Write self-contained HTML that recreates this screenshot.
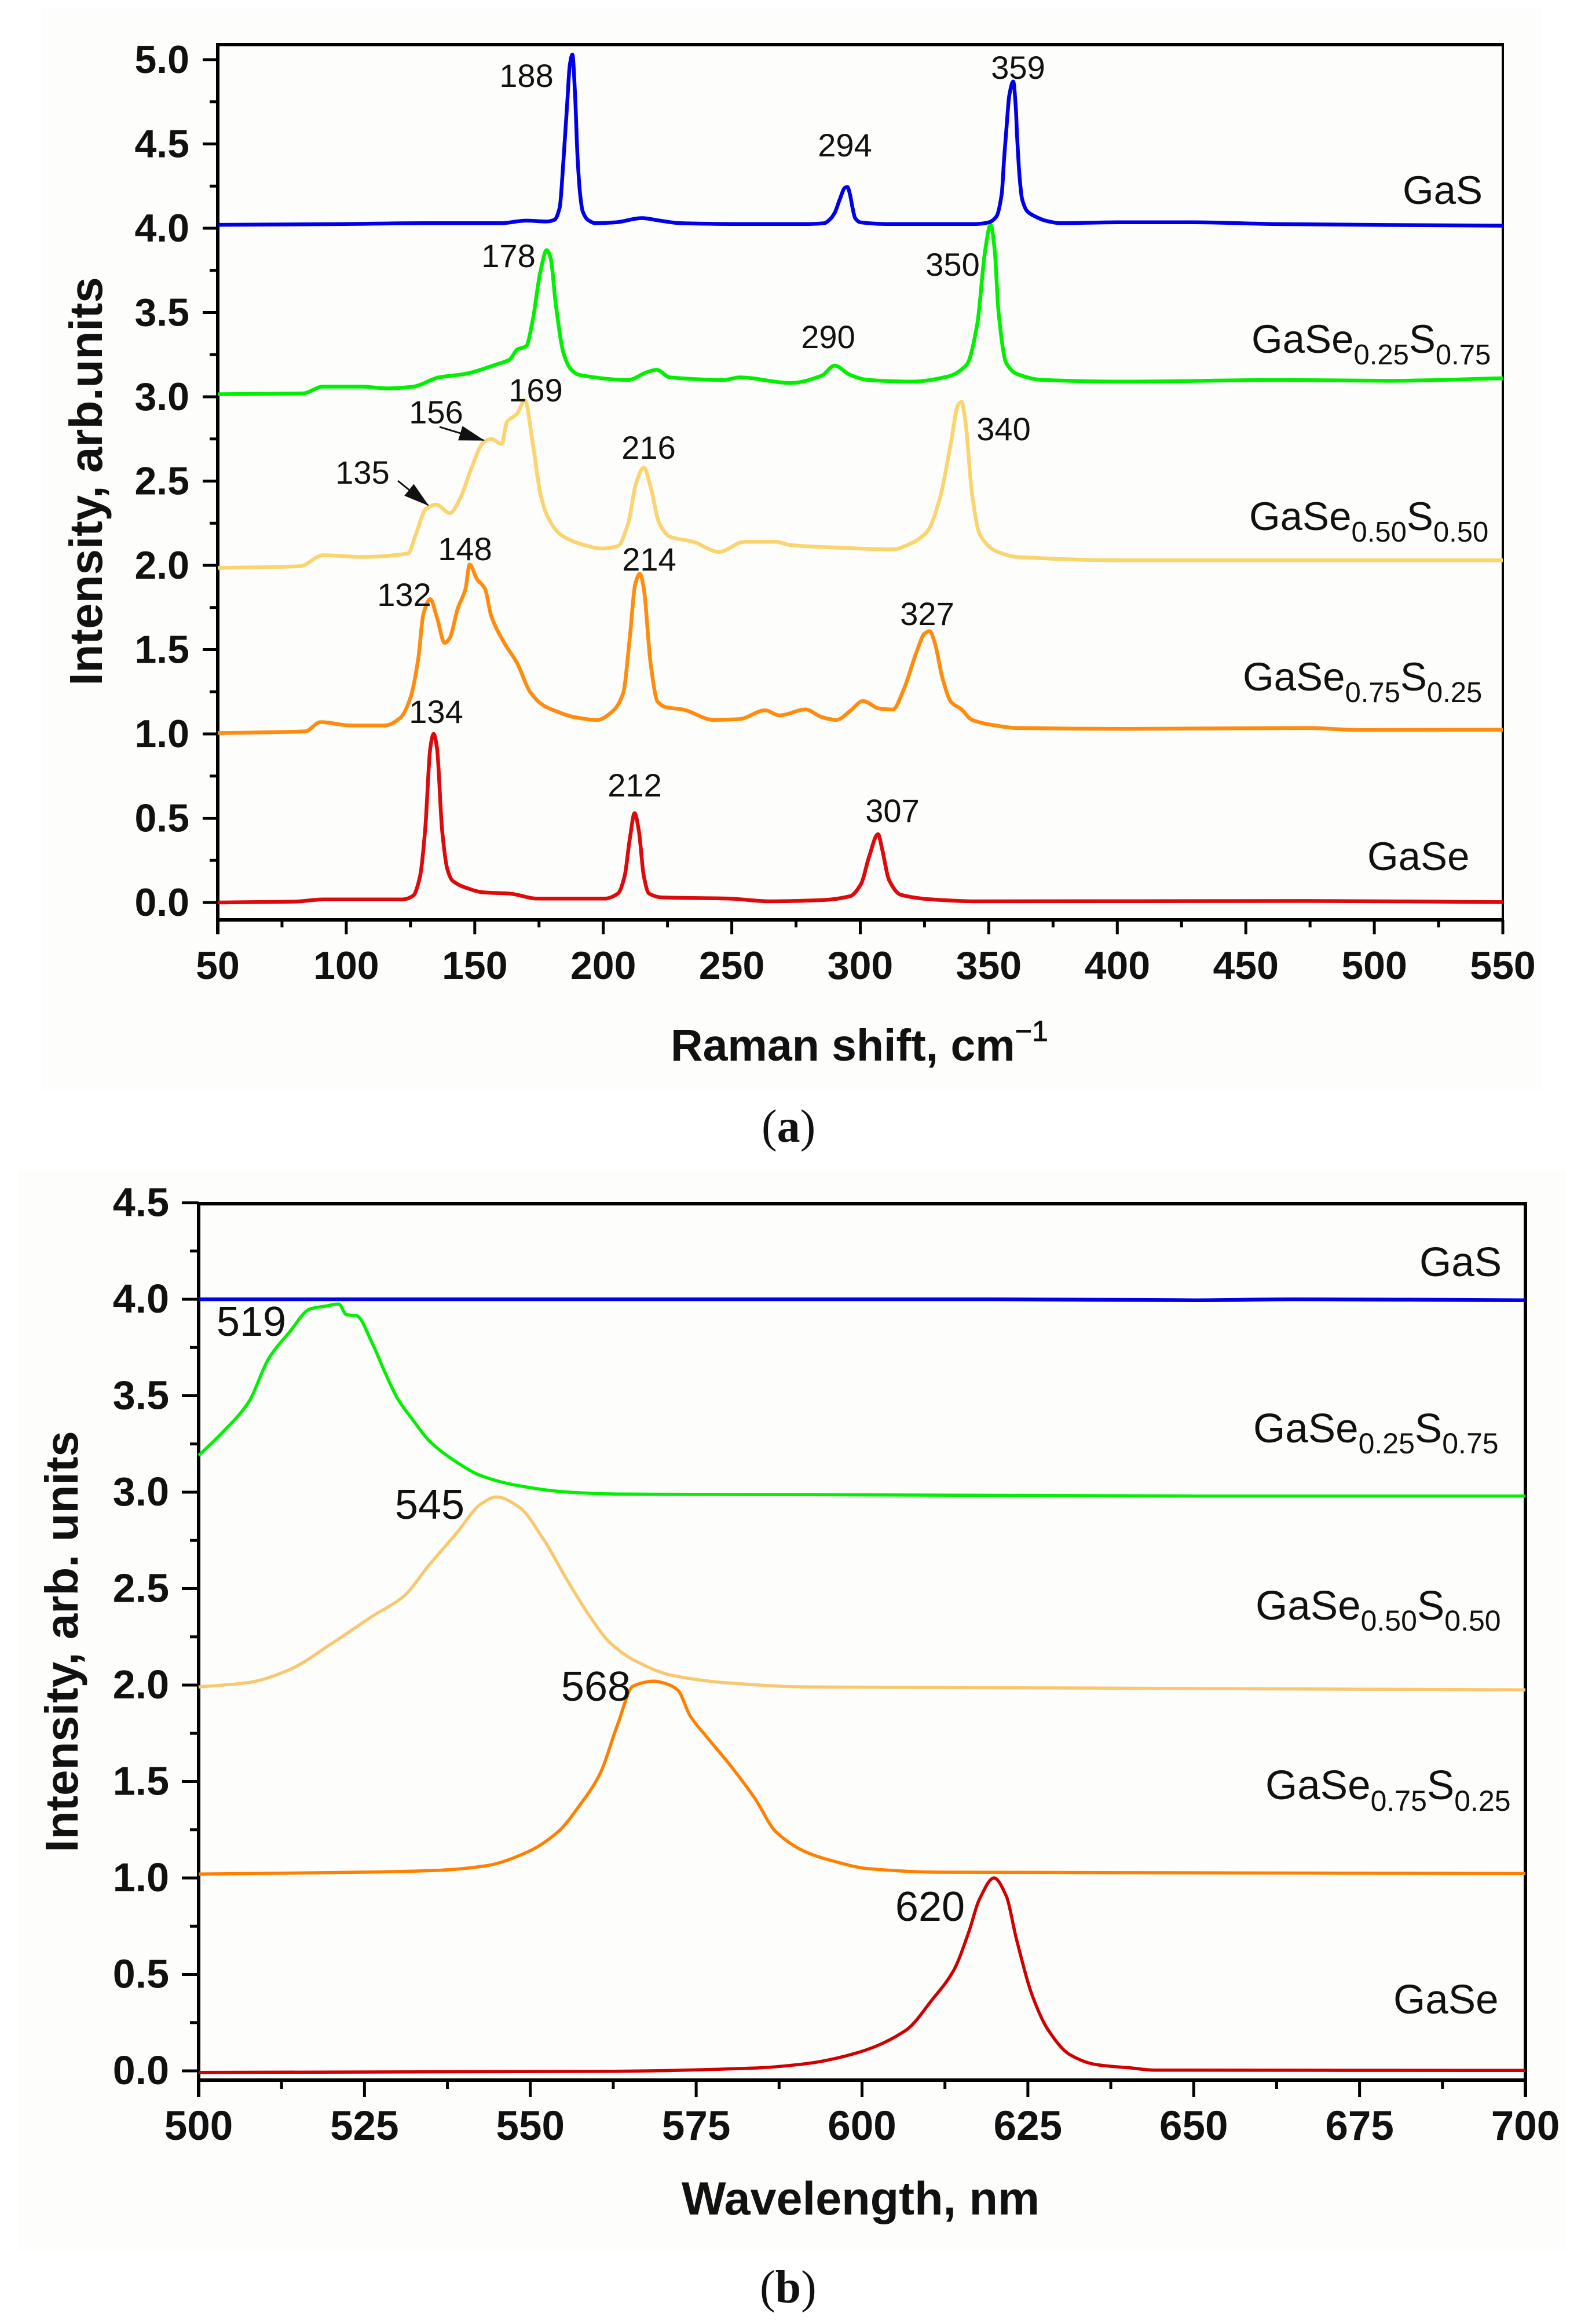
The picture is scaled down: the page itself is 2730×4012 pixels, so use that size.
<!DOCTYPE html>
<html lang="en">
<head>
<meta charset="utf-8">
<title>Raman and PL spectra of GaSe–GaS alloys</title>
<style>
html,body{margin:0;padding:0;background:#fff;}
svg{display:block;font-family:"Liberation Sans",Arial,sans-serif;}
.pk{font-size:56px;text-anchor:middle;fill:#111;}
.pkb{font-size:72px;text-anchor:middle;fill:#111;}
.lb{font-size:69px;fill:#111;}
.lb .sub{font-size:49px;}
.lbb{font-size:71px;fill:#111;}
.lbb .sub{font-size:50px;}
.ttl{font-weight:bold;fill:#111;}
.cap{font-family:"Liberation Serif",serif;font-size:80px;fill:#111;}
</style>
</head>
<body>
<svg id="fig" xmlns="http://www.w3.org/2000/svg" width="2730" height="4012" viewBox="0 0 2730 4012">
<defs>
<marker id="ah" markerUnits="userSpaceOnUse" markerWidth="44" markerHeight="30" refX="42" refY="13" orient="auto"><path d="M0 0L44 13L0 26Z" fill="#111"/></marker>
</defs>
<rect x="71" y="13" width="2592" height="1868" fill="#fdfdfb"/>
<rect x="31" y="2019" width="2673" height="1865" fill="#fdfdfb"/>

<g id="a-marks"></g>
<g id="b-marks"></g>

<g>
<text class="pk" x="909" y="150">188</text>
<text class="pk" x="878" y="461">178</text>
<text class="pk" x="925" y="693">169</text>
<text class="pk" x="753" y="731">156</text>
<text class="pk" x="626" y="835">135</text>
<text class="pk" x="1120" y="792">216</text>
<text class="pk" x="803" y="967">148</text>
<text class="pk" x="1121" y="985">214</text>
<text class="pk" x="698" y="1046">132</text>
<text class="pk" x="753" y="1248">134</text>
<text class="pk" x="1096" y="1375">212</text>
<text class="pk" x="1459" y="270">294</text>
<text class="pk" x="1758" y="136">359</text>
<text class="pk" x="1645" y="476">350</text>
<text class="pk" x="1430" y="601">290</text>
<text class="pk" x="1733" y="760">340</text>
<text class="pk" x="1601" y="1079">327</text>
<text class="pk" x="1541" y="1419">307</text>
<line x1="759" y1="737" x2="835" y2="760" stroke="#111" stroke-width="3" marker-end="url(#ah)"/>
<line x1="687" y1="830" x2="739" y2="872" stroke="#111" stroke-width="3" marker-end="url(#ah)"/>
</g>

<g>
<text class="lb" x="2422" y="352">GaS</text>
<text class="lb" x="2161" y="609">GaSe<tspan class="sub" dy="20">0.25</tspan><tspan dy="-20">S</tspan><tspan class="sub" dy="20">0.75</tspan></text>
<text class="lb" x="2157" y="915">GaSe<tspan class="sub" dy="20">0.50</tspan><tspan dy="-20">S</tspan><tspan class="sub" dy="20">0.50</tspan></text>
<text class="lb" x="2146" y="1192">GaSe<tspan class="sub" dy="20">0.75</tspan><tspan dy="-20">S</tspan><tspan class="sub" dy="20">0.25</tspan></text>
<text class="lb" x="2361" y="1502">GaSe</text>
</g>

<text class="ttl" font-size="80" text-anchor="middle" transform="translate(176,831) rotate(-90)">Intensity, arb.units</text>
<text class="ttl" font-size="77" x="1158" y="1831">Raman shift, cm<tspan font-size="50" dy="-34" font-weight="normal" stroke="#111" stroke-width="1">−1</tspan></text>
<text class="cap" x="1315" y="1971">(<tspan font-weight="bold">a</tspan>)</text>

<g>
<text class="pkb" x="434" y="2306">519</text>
<text class="pkb" x="742" y="2622">545</text>
<text class="pkb" x="1029" y="2936">568</text>
<text class="pkb" x="1606" y="3316">620</text>
</g>
<g>
<text class="lbb" x="2451" y="2203">GaS</text>
<text class="lbb" x="2164" y="2490">GaSe<tspan class="sub" dy="19">0.25</tspan><tspan dy="-19">S</tspan><tspan class="sub" dy="19">0.75</tspan></text>
<text class="lbb" x="2168" y="2796">GaSe<tspan class="sub" dy="19">0.50</tspan><tspan dy="-19">S</tspan><tspan class="sub" dy="19">0.50</tspan></text>
<text class="lbb" x="2185" y="3106">GaSe<tspan class="sub" dy="20">0.75</tspan><tspan dy="-20">S</tspan><tspan class="sub" dy="20">0.25</tspan></text>
<text class="lbb" x="2406" y="3476">GaSe</text>
</g>

<text class="ttl" font-size="80" text-anchor="middle" transform="translate(134,2834) rotate(-90)">Intensity, arb. units</text>
<text class="ttl" font-size="81" x="1177" y="3823">Wavelength, nm</text>
<text class="cap" x="1312" y="3975">(<tspan font-weight="bold">b</tspan>)</text>
</svg>

<script>
// ---- Panel (a): Raman spectra ----
const ramanMajorX = [50,100,150,200,250,300,350,400,450,500,550];
const ramanMinorX = [75,125,175,225,275,325,375,425,475,525];
const ramanMajorY = ["0.0","0.5","1.0","1.5","2.0","2.5","3.0","3.5","4.0","4.5","5.0"];
const ramanMinorY = [0.25,0.75,1.25,1.75,2.25,2.75,3.25,3.75,4.25,4.75];

const ramanGaSX = [50,100,130,160,170,178,181,183,184.5,186,187,188,189,190,191,192,194,197,205,215,222,230,250,280,286,288,290,292,294,295,296,297,298,300,310,345,350,353,355,356,357,358,359.5,360.5,361,362,363,365,368,372,378,400,430,460,550];
const ramanGaSY = [4.02,4.025,4.03,4.03,4.045,4.04,4.05,4.12,4.4,4.75,4.97,5.03,4.8,4.42,4.2,4.1,4.05,4.03,4.035,4.06,4.045,4.03,4.025,4.025,4.03,4.05,4.09,4.17,4.24,4.245,4.2,4.12,4.06,4.035,4.025,4.025,4.035,4.07,4.2,4.42,4.62,4.79,4.87,4.72,4.55,4.3,4.17,4.1,4.07,4.045,4.03,4.035,4.035,4.025,4.015];

const ramanS75X = [50,83,91,106,116,126,136,146,159,163.5,166.5,170,172.5,175.5,178,179.5,181.6,184.6,187.6,190.6,209.7,216.8,220.8,225.9,247,253,273,285,290,296,303,320,334,341.4,345.5,348.6,350.7,352.3,353.8,356.8,361,371,402,464,505,550];
const ramanS75Y = [3.015,3.02,3.06,3.06,3.05,3.06,3.115,3.135,3.195,3.22,3.28,3.30,3.45,3.74,3.87,3.825,3.54,3.255,3.16,3.13,3.10,3.145,3.16,3.115,3.10,3.115,3.082,3.125,3.185,3.13,3.10,3.09,3.12,3.19,3.43,3.87,4.02,3.87,3.5,3.2,3.135,3.10,3.09,3.10,3.095,3.11];

const ramanS50X = [50,82,91,106,124,127,131,135,140.3,144.4,148.4,153.4,156.4,160.5,162.5,166.5,169.5,172.5,175.6,178.6,183.6,190.6,199.7,205.7,209.7,212.8,215.8,218.4,221.8,225.9,235,245,255,267,273,291,312.6,319,326,331,335.3,338,339.4,341,343.5,346.6,352.7,361,402,550];
const ramanS50Y = [1.985,1.995,2.06,2.05,2.07,2.18,2.335,2.36,2.31,2.40,2.565,2.73,2.75,2.72,2.85,2.90,2.98,2.73,2.42,2.28,2.18,2.13,2.10,2.115,2.25,2.49,2.58,2.465,2.25,2.17,2.14,2.08,2.14,2.14,2.12,2.105,2.095,2.125,2.20,2.40,2.73,2.95,2.97,2.84,2.42,2.18,2.085,2.05,2.03,2.03];

const ramanS25X = [50,84,90,102,115,121,125,128,130,132.7,135.3,138.3,140.3,143.4,146.4,148,150.8,154,156.4,161.5,166.5,171.5,176.6,181.6,188.6,197.7,203.7,207.7,210.4,212.4,214.2,215.8,218.4,221.2,224.8,230.9,243,253,263,268.5,278.7,285,290.7,296,301,307.5,312.7,316.8,322,325,327,329,332,335.3,339.4,343.5,352.7,361,402,474,494.5,550];
const ramanS25Y = [1.005,1.015,1.07,1.05,1.05,1.095,1.215,1.445,1.71,1.80,1.69,1.54,1.57,1.745,1.86,2.005,1.92,1.86,1.70,1.54,1.42,1.25,1.17,1.135,1.10,1.083,1.135,1.24,1.585,1.885,1.95,1.86,1.42,1.19,1.157,1.145,1.083,1.088,1.14,1.11,1.145,1.10,1.083,1.135,1.195,1.15,1.145,1.26,1.49,1.595,1.61,1.54,1.33,1.19,1.145,1.083,1.05,1.035,1.03,1.035,1.023,1.025];

const ramanGaSeX = [50,80,91,122,126,128.7,130.7,132.7,134,135.3,137.3,139.3,141.3,147.4,153.4,163.5,174.5,200.7,205.7,208.3,210.4,212.2,213.8,215.8,217.8,222.8,249,265,285,296,300.3,303.4,306.9,308.5,311.2,315.7,328,344.5,474,550];
const ramanGaSeY = [0,0.005,0.018,0.018,0.04,0.155,0.43,0.915,1.0,0.915,0.43,0.2,0.13,0.083,0.06,0.053,0.023,0.023,0.053,0.155,0.386,0.53,0.43,0.155,0.053,0.03,0.023,0.007,0.014,0.037,0.11,0.27,0.405,0.317,0.133,0.046,0.018,0.007,0.009,0.002];

// ---- Panel (b): photoluminescence spectra ----
const plMajorX = [500,525,550,575,600,625,650,675,700];
const plMinorX = [512.5,537.5,562.5,587.5,612.5,637.5,662.5,687.5];
const plMajorY = ["0.0","0.5","1.0","1.5","2.0","2.5","3.0","3.5","4.0","4.5"];
const plMinorY = [0.25,0.75,1.25,1.75,2.25,2.75,3.25,3.75,4.25];

const plGaSX = [500,620,650,665,700];
const plGaSY = [4.0,4.0,3.995,4.0,3.995];

const plS75X = [500,503.6,507.5,510.6,513.7,516.8,519.2,521.1,522.3,523.8,526.2,528.1,530,532.4,534.8,538.7,542.6,548,555.8,563.6,592,651,700];
const plS75Y = [3.19,3.31,3.465,3.695,3.83,3.95,3.965,3.975,3.92,3.915,3.77,3.62,3.485,3.37,3.265,3.16,3.085,3.035,3.0,2.99,2.987,2.98,2.98];

const plS50X = [500,507.5,513.7,520,526.2,530.9,534.8,538.7,542.6,544.9,548.4,551.9,555.8,558.9,562,565.9,571.4,579.2,592,630,700];
const plS50Y = [1.99,2.013,2.08,2.214,2.357,2.46,2.625,2.78,2.94,2.975,2.92,2.76,2.53,2.36,2.22,2.124,2.05,2.013,1.99,1.985,1.975];

const plS25X = [500,524.6,536.3,543.3,549.6,554.2,557.4,560.5,563.2,565.5,568.7,570.2,572.2,574.1,576.5,580,583.9,587,591.5,595.4,601,611.4,700];
const plS25Y = [1.02,1.03,1.04,1.063,1.135,1.24,1.375,1.54,1.8,1.995,2.02,2.01,1.975,1.84,1.735,1.59,1.41,1.24,1.135,1.09,1.048,1.03,1.023];

const plGaSeX = [500,562.8,583.5,591.5,599.4,606.6,610.6,613.8,616.1,617.7,619.9,621.7,623.3,625.7,628.1,631.3,635.2,640.8,644,700];
const plGaSeY = [-0.008,-0.002,0.014,0.037,0.095,0.21,0.37,0.52,0.72,0.89,1.0,0.91,0.68,0.387,0.21,0.085,0.033,0.014,0.004,0.002];

const NS = 'http://www.w3.org/2000/svg';

function ramanXPos(v) { return 376 + (v - 50) * 4.438; }
function ramanYPos(v) { return 1558 - v * 291; }
function plXPos(v) { return 343 + (v - 500) * 11.455; }
function plYPos(v) { return 3575 - v * 333; }

function svgLine(parent, x1, y1, x2, y2, w) {
  const el = document.createElementNS(NS, 'line');
  el.setAttribute('x1', x1);
  el.setAttribute('y1', y1);
  el.setAttribute('x2', x2);
  el.setAttribute('y2', y2);
  el.setAttribute('stroke', '#000');
  el.setAttribute('stroke-width', w);
  parent.appendChild(el);
  return el;
}

function svgLabel(parent, x, y, txt, size, anchor) {
  const el = document.createElementNS(NS, 'text');
  el.setAttribute('x', x);
  el.setAttribute('y', y);
  el.setAttribute('font-size', size);
  el.setAttribute('font-weight', 'bold');
  el.setAttribute('text-anchor', anchor);
  el.setAttribute('fill', '#111');
  el.textContent = txt;
  parent.appendChild(el);
  return el;
}

// Monotone cubic path through the data points, so peaks stay at their values
// and the trace is smooth like the measured spectrum.
function curvePath(px, py) {
  const n = px.length;
  const sec = [];
  for (let i = 0; i < n - 1; i++) sec.push((py[i + 1] - py[i]) / (px[i + 1] - px[i]));
  const tan = [sec[0]];
  for (let i = 1; i < n - 1; i++) {
    tan.push(sec[i - 1] * sec[i] <= 0 ? 0 : 2 * sec[i - 1] * sec[i] / (sec[i - 1] + sec[i]));
  }
  tan.push(sec[n - 2]);
  let d = 'M' + px[0].toFixed(1) + ' ' + py[0].toFixed(1);
  for (let i = 0; i < n - 1; i++) {
    const h = (px[i + 1] - px[i]) / 3;
    d += 'C' + (px[i] + h).toFixed(1) + ' ' + (py[i] + tan[i] * h).toFixed(1) + ' ' +
      (px[i + 1] - h).toFixed(1) + ' ' + (py[i + 1] - tan[i + 1] * h).toFixed(1) + ' ' +
      px[i + 1].toFixed(1) + ' ' + py[i + 1].toFixed(1);
  }
  return d;
}

function drawSeries(parent, xs, ys, fx, fy, color, width) {
  const el = document.createElementNS(NS, 'path');
  el.setAttribute('d', curvePath(xs.map(fx), ys.map(fy)));
  el.setAttribute('fill', 'none');
  el.setAttribute('stroke', color);
  el.setAttribute('stroke-width', width);
  el.setAttribute('stroke-linejoin', 'round');
  parent.appendChild(el);
  return el;
}

function drawAxes(parent, cfg) {
  const frame = [
    svgLine(parent, cfg.left, cfg.top, cfg.right, cfg.top, 6),
    svgLine(parent, cfg.left, cfg.top - 3, cfg.left, cfg.majorXEnd, 6),
    svgLine(parent, cfg.left - 3, cfg.bottom, cfg.right, cfg.bottom, 6),
    svgLine(parent, cfg.right, cfg.top - 3, cfg.right, cfg.majorXEnd, cfg.rightWidth)
  ];
  frame.forEach(function (el) {
    
    
  });
  cfg.majorX.forEach(function (v) {
    const t = svgLine(parent, cfg.fx(v), cfg.bottom, cfg.fx(v), cfg.majorXEnd, 5);
    
    
    const l = svgLabel(parent, cfg.fx(v), cfg.xLabelY, String(v), cfg.xFontSize, 'middle');
    
    
  });
  cfg.minorX.forEach(function (v) {
    const t = svgLine(parent, cfg.fx(v), cfg.bottom, cfg.fx(v), cfg.minorXEnd, 5);
    
    
  });
  cfg.majorY.forEach(function (s) {
    const v = parseFloat(s);
    const t = svgLine(parent, cfg.majorYEnd, cfg.fy(v), cfg.left, cfg.fy(v), 5);
    
    
    const l = svgLabel(parent, cfg.yLabelX, cfg.fy(v) + 23, s, cfg.yFontSize, 'end');
    
    
  });
  cfg.minorY.forEach(function (v) {
    const t = svgLine(parent, cfg.minorYEnd, cfg.fy(v), cfg.left, cfg.fy(v), 5);
    
    
  });
}

const gA = document.getElementById('a-marks');
const gB = document.getElementById('b-marks');

drawAxes(gA, {
  left: 376, right: 2595, top: 77, bottom: 1588, rightWidth: 4,
  majorXEnd: 1613, minorXEnd: 1601, majorYEnd: 350, minorYEnd: 362,
  xLabelY: 1690, yLabelX: 327, xFontSize: 68, yFontSize: 68,
  fx: ramanXPos, fy: ramanYPos,
  majorX: ramanMajorX, minorX: ramanMinorX, majorY: ramanMajorY, minorY: ramanMinorY
});
drawAxes(gB, {
  left: 343, right: 2634, top: 2078, bottom: 3591, rightWidth: 6,
  majorXEnd: 3620, minorXEnd: 3606, majorYEnd: 314, minorYEnd: 328,
  xLabelY: 3694, yLabelX: 292, xFontSize: 71, yFontSize: 70,
  fx: plXPos, fy: plYPos,
  majorX: plMajorX, minorX: plMinorX, majorY: plMajorY, minorY: plMinorY
});

const rGaSe = drawSeries(gA, ramanGaSeX, ramanGaSeY, ramanXPos, ramanYPos, '#dc0a0a', 6.5);


const rS25 = drawSeries(gA, ramanS25X, ramanS25Y, ramanXPos, ramanYPos, '#ff8c0f', 6.5);


const rS50 = drawSeries(gA, ramanS50X, ramanS50Y, ramanXPos, ramanYPos, '#fad46e', 6.5);


const rS75 = drawSeries(gA, ramanS75X, ramanS75Y, ramanXPos, ramanYPos, '#00f000', 6.5);


const rGaS = drawSeries(gA, ramanGaSX, ramanGaSY, ramanXPos, ramanYPos, '#0000e8', 6.5);



const pGaSe = drawSeries(gB, plGaSeX, plGaSeY, plXPos, plYPos, '#d00000', 5.5);


const pS25 = drawSeries(gB, plS25X, plS25Y, plXPos, plYPos, '#ff8000', 5.5);


const pS50 = drawSeries(gB, plS50X, plS50Y, plXPos, plYPos, '#f8c870', 5.5);


const pS75 = drawSeries(gB, plS75X, plS75Y, plXPos, plYPos, '#00f000', 5.5);


const pGaS = drawSeries(gB, plGaSX, plGaSY, plXPos, plYPos, '#0000e8', 6.5);


</script>
</body>
</html>
